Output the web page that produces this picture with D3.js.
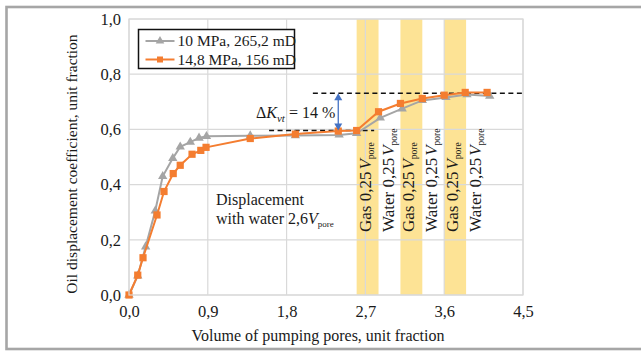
<!DOCTYPE html>
<html>
<head>
<meta charset="utf-8">
<script src="https://cdn.jsdelivr.net/npm/d3@7/dist/d3.min.js"></script>
<style>
  html, body { margin: 0; padding: 0; background: #fff; }
  svg { display: block; }
  text { font-family: "Liberation Serif", "Times New Roman", serif; fill: #1a1a1a; }
</style>
</head>
<body>
<svg id="chart" width="641" height="352"></svg>
<script>
// Oil displacement coefficient vs. pumped pore volumes
const series1Name = "10 MPa, 265,2 mD";
const series1X = [0, 0.10, 0.19, 0.30, 0.385, 0.50, 0.585, 0.70, 0.80, 0.885, 1.385, 1.90, 2.40, 2.60, 2.87, 3.12, 3.35, 3.62, 3.86, 4.12];
const series1Y = [0, 0.07, 0.175, 0.305, 0.43, 0.495, 0.537, 0.554, 0.569, 0.575, 0.577, 0.578, 0.58, 0.586, 0.642, 0.675, 0.705, 0.716, 0.726, 0.721];

const series2Name = "14,8 MPa, 156 mD";
const series2X = [0, 0.10, 0.16, 0.32, 0.40, 0.505, 0.585, 0.72, 0.82, 0.88, 1.385, 1.90, 2.39, 2.60, 2.85, 3.10, 3.35, 3.60, 3.84, 4.09];
const series2Y = [0, 0.072, 0.135, 0.29, 0.375, 0.44, 0.47, 0.51, 0.524, 0.535, 0.567, 0.583, 0.594, 0.596, 0.664, 0.694, 0.712, 0.724, 0.734, 0.734];

const xTicks = [0, 0.9, 1.8, 2.7, 3.6, 4.5];
const yTicks = [0, 0.2, 0.4, 0.6, 0.8, 1.0];

// Gas injection slugs (start, end) in pore volumes
const gasStart = [2.60, 3.10, 3.60];
const gasEnd = [2.85, 3.35, 3.85];

// Reference levels before and after gas-water cycling
const lowLevel = 0.596, lowFrom = 1.6, lowTo = 2.8;
const highLevel = 0.731, highFrom = 2.1, highTo = 4.5;
const arrowX = 2.39;

const svg = d3.select("#chart");
const margin = {left: 129, top: 19, right: 118, bottom: 57};
const W = 641 - margin.left - margin.right;
const H = 352 - margin.top - margin.bottom;

const x = d3.scaleLinear().domain([0, 4.5]).range([0, W]);
const y = d3.scaleLinear().domain([0, 1]).range([H, 0]);
const fmt = d => d.toFixed(1).replace(".", ",");

// outer frame
svg.append("rect")
  .attr("x", 6.5).attr("y", 7).attr("width", 660).attr("height", 342)
  .attr("fill", "none").attr("stroke", "#a6a6a6").attr("stroke-width", 2.6);

const g = svg.append("g").attr("transform", `translate(${margin.left},${margin.top})`);

// gas slug bands
g.selectAll("rect.band").data(gasStart).join("rect")
  .attr("class", "band")
  .attr("x", (d, i) => x(d)).attr("y", 0)
  .attr("width", (d, i) => x(gasEnd[i]) - x(d)).attr("height", H)
  .attr("fill", "#fde08a").attr("opacity", 0.9);

// gridlines
g.append("g").selectAll("line").data(xTicks).join("line")
  .attr("x1", d => x(d)).attr("x2", d => x(d)).attr("y1", 0).attr("y2", H)
  .attr("stroke", "#d9d9d9").attr("stroke-width", 1.2);
g.append("g").selectAll("line").data(yTicks).join("line")
  .attr("x1", 0).attr("x2", W).attr("y1", d => y(d)).attr("y2", d => y(d))
  .attr("stroke", "#d9d9d9").attr("stroke-width", 1.2);

// axes (labels only, lines come from the grid)
const xAxis = g.append("g").attr("transform", `translate(0,${H})`)
  .call(d3.axisBottom(x).tickValues(xTicks).tickFormat(fmt).tickSize(0).tickPadding(10));
const yAxis = g.append("g")
  .call(d3.axisLeft(y).tickValues(yTicks).tickFormat(fmt).tickSize(0).tickPadding(8));
[xAxis, yAxis].forEach(a => {
  a.select(".domain").remove();
  a.selectAll("text").attr("font-family", "Liberation Serif").attr("font-size", 16.5).attr("fill", "#1a1a1a");
});

// axis titles
svg.append("text")
  .attr("x", margin.left + W / 2 - 8).attr("y", 341)
  .attr("text-anchor", "middle").attr("font-size", 16)
  .text("Volume of pumping pores, unit fraction");
svg.append("text")
  .attr("transform", `translate(77,${margin.top + H / 2 + 7}) rotate(-90)`)
  .attr("text-anchor", "middle").attr("font-size", 15.5)
  .text("Oil displacement coefficient, unit fraction");

// dashed reference levels
const dash = (v, a, b) => g.append("line")
  .attr("x1", x(a)).attr("x2", x(b)).attr("y1", y(v)).attr("y2", y(v))
  .attr("stroke", "#111").attr("stroke-width", 1.4).attr("stroke-dasharray", "5,3.5");
dash(lowLevel, lowFrom, lowTo);
dash(highLevel, highFrom, highTo);

// data lines
const line = d3.line().x(d => x(d[0])).y(d => y(d[1]));
const pts1 = series1X.map((v, i) => [v, series1Y[i]]);
const pts2 = series2X.map((v, i) => [v, series2Y[i]]);
const gray = "#a5a5a5", orange = "#f47d30";

g.append("path").datum(pts1).attr("d", line)
  .attr("fill", "none").attr("stroke", gray).attr("stroke-width", 2);
g.selectAll("path.tri").data(pts1).join("path").attr("class", "tri")
  .attr("transform", d => `translate(${x(d[0])},${y(d[1])})`)
  .attr("d", d3.symbol(d3.symbolTriangle, 38)).attr("fill", gray);

g.append("path").datum(pts2).attr("d", line)
  .attr("fill", "none").attr("stroke", orange).attr("stroke-width", 2);
g.selectAll("rect.sq").data(pts2).join("rect").attr("class", "sq")
  .attr("x", d => x(d[0]) - 3.6).attr("y", d => y(d[1]) - 3.6)
  .attr("width", 7.2).attr("height", 7.2).attr("fill", orange);

// plot area border
g.append("rect").attr("width", W).attr("height", H)
  .attr("fill", "none").attr("stroke", "#d9d9d9").attr("stroke-width", 1.2);

// double arrow for the increment
const blue = "#4472c4";
const ax = x(arrowX), ay1 = y(highLevel), ay2 = y(lowLevel);
g.append("line").attr("x1", ax).attr("x2", ax).attr("y1", ay1 + 6).attr("y2", ay2 - 6)
  .attr("stroke", blue).attr("stroke-width", 1.3);
g.append("path").attr("d", `M${ax},${ay1} l-4,7 l8,0 z`).attr("fill", blue);
g.append("path").attr("d", `M${ax},${ay2} l-4,-7 l8,0 z`).attr("fill", blue);

// ΔK annotation
const dk = svg.append("text").attr("x", 256).attr("y", 118).attr("font-size", 16);
dk.append("tspan").text("Δ");
dk.append("tspan").attr("font-style", "italic").text("K");
dk.append("tspan").attr("font-style", "italic").attr("font-size", 11).attr("dy", 4).text("vt");
dk.append("tspan").attr("dy", -4).text(" = 14 %");

// water displacement note
svg.append("text").attr("x", 216).attr("y", 205).attr("font-size", 16).text("Displacement");
const w = svg.append("text").attr("x", 216).attr("y", 224).attr("font-size", 16);
w.append("tspan").text("with water 2,6");
w.append("tspan").attr("font-style", "italic").text("V");
w.append("tspan").attr("font-size", 9).attr("dy", 3).text("pore");

// vertical slug labels
const slugLabel = (cx, word) => {
  const t = svg.append("text")
    .attr("transform", `translate(${cx + 5},232) rotate(-90)`)
    .attr("font-size", 17);
  t.append("tspan").text(word + " 0,25");
  t.append("tspan").attr("font-style", "italic").attr("dx", 2).text("V");
  t.append("tspan").attr("font-size", 9.5).attr("dy", 3).text("pore");
};
gasStart.forEach((s, i) => {
  slugLabel(margin.left + x((s + gasEnd[i]) / 2) - 2, "Gas");
  slugLabel(margin.left + x(gasEnd[i]) + 10, "Water");
});

// legend
const lg = svg.append("g").attr("transform", "translate(138.5,29.5)");
lg.append("rect").attr("width", 156).attr("height", 39)
  .attr("fill", "#fff").attr("stroke", "#111").attr("stroke-width", 1.5);
[[series1Name, gray, "tri"], [series2Name, orange, "sq"]].forEach((e, i) => {
  const cy = 11.5 + i * 18.5;
  lg.append("line").attr("x1", 7).attr("x2", 36).attr("y1", cy).attr("y2", cy)
    .attr("stroke", e[1]).attr("stroke-width", 2);
  if (e[2] === "tri") {
    lg.append("path").attr("transform", `translate(21.5,${cy})`)
      .attr("d", d3.symbol(d3.symbolTriangle, 32)).attr("fill", e[1]);
  } else {
    lg.append("rect").attr("x", 18.5).attr("y", cy - 3).attr("width", 6).attr("height", 6).attr("fill", e[1]);
  }
  lg.append("text").attr("x", 39).attr("y", cy + 5).attr("font-size", 15.5).text(e[0]);
});
</script>
</body>
</html>
